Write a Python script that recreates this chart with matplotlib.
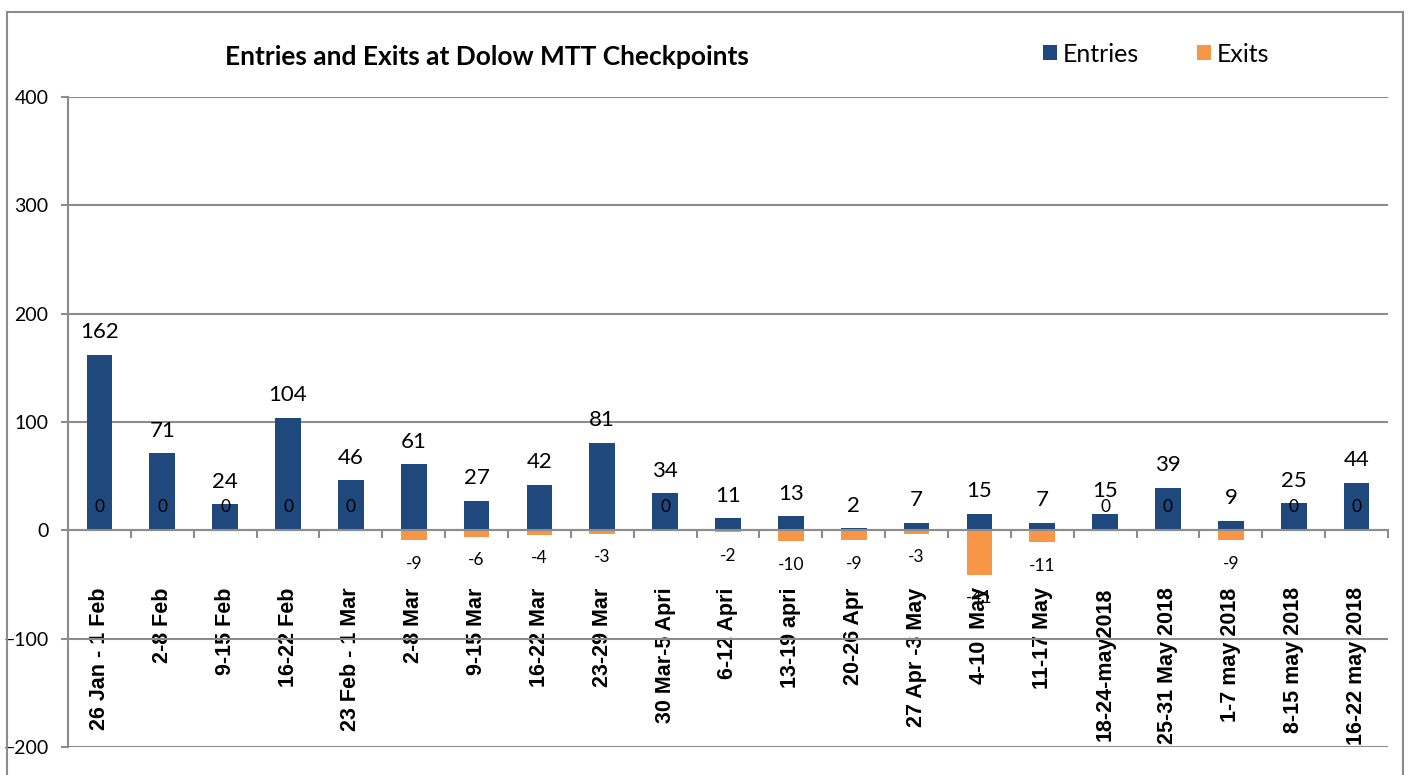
import matplotlib.pyplot as plt
from matplotlib.patches import Rectangle
import numpy as np

# weekly counts at the Dolow MTT checkpoints
weeks = ["26 Jan - 1 Feb", "2-8 Feb", "9-15 Feb", "16-22 Feb", "23 Feb - 1 Mar",
         "2-8 Mar", "9-15 Mar", "16-22 Mar", "23-29 Mar", "30 Mar-5 Apri",
         "6-12 Apri", "13-19 apri", "20-26 Apr", "27 Apr -3 May", "4-10  May",
         "11-17 May", "18-24-may2018", "25-31 May 2018", "1-7 may 2018",
         "8-15 may 2018", "16-22 may 2018"]
entries = [162, 71, 24, 104, 46, 61, 27, 42, 81, 34, 11, 13, 2, 7, 15, 7, 15, 39, 9, 25, 44]
exits = [0, 0, 0, 0, 0, -9, -6, -4, -3, 0, -2, -10, -9, -3, -41, -11, 0, 0, -9, 0, 0]

BLUE = "#1F497D"
ORANGE = "#F79646"
GRAY = "#8C8C8C"
FONT = "Lato"

fig = plt.figure(figsize=(14.09, 7.75), dpi=100)
ax = fig.add_axes([68 / 1409, 1 - 747 / 775, 1320 / 1409, 650 / 775])

x = np.arange(len(weeks))
bw = 0.41
ax.bar(x, entries, width=bw, color=BLUE, label="Entries", zorder=3)
ax.bar(x, exits, width=bw, color=ORANGE, label="Exits", zorder=3)

# data labels
for xi, v in zip(x, entries):
    ax.annotate(str(v), (xi, v), xytext=(0, 12), textcoords="offset points",
                ha="center", va="baseline", fontsize=16, family=FONT, zorder=5)
for xi, v in zip(x, exits):
    off = -17 if v < 0 else 17
    ax.annotate(str(v), (xi, v), xytext=(0, off), textcoords="offset points",
                ha="center", va="center", fontsize=12.5, family=FONT, zorder=5)

ax.set_xlim(-0.5, len(weeks) - 0.5)
ax.set_ylim(-200, 400)
ax.set_yticks(range(-200, 401, 100))
ax.yaxis.grid(True, color=GRAY, lw=1.5, zorder=0)
ax.set_axisbelow(True)

for s in ["top", "right"]:
    ax.spines[s].set_visible(False)
ax.spines["left"].set_color(GRAY)
ax.spines["left"].set_linewidth(1.5)
ax.spines["bottom"].set_position(("data", 0))
ax.spines["bottom"].set_color(GRAY)
ax.spines["bottom"].set_linewidth(1.5)
ax.spines["bottom"].set_zorder(4)

ax.set_xticks(x)
ax.set_xticklabels(weeks, rotation=90, fontsize=15.5, fontweight="bold",
                   family="Liberation Sans")
ax.tick_params(axis="x", which="major", length=0, pad=41)
ax.set_xticks(np.arange(-0.5, len(weeks), 1), minor=True)
ax.tick_params(axis="x", which="minor", length=6, width=1.5, color=GRAY, direction="out")
ax.tick_params(axis="y", length=5, width=1.5, color=GRAY, pad=9, labelsize=14)
for lab in ax.get_yticklabels():
    lab.set_family(FONT)

fig.text(487 / 1409, 1 - 57 / 775, "Entries and Exits at Dolow MTT Checkpoints",
         ha="center", va="center", fontsize=19, fontweight="bold", family=FONT)
fig.legend(loc="center left", bbox_to_anchor=(1043 / 1409, 1 - 54 / 775), ncol=2,
           frameon=False, prop={"family": FONT, "size": 18}, handlelength=0.55,
           handleheight=0.55, handletextpad=0.25, columnspacing=2.3, borderpad=0,
           borderaxespad=0)

fig.patches.append(Rectangle((7 / 1409, -10 / 775), 1396 / 1409, 773 / 775,
                             transform=fig.transFigure, fill=False,
                             edgecolor=GRAY, lw=1.5))

fig.savefig("out.png", dpi=100)
